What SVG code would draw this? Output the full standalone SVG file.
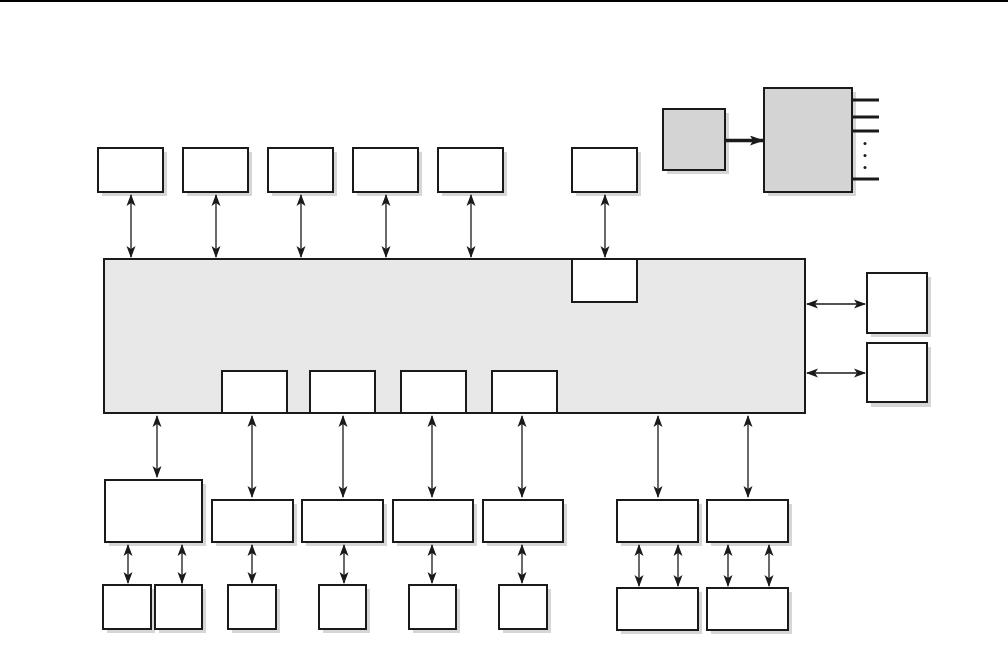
<svg xmlns="http://www.w3.org/2000/svg" width="1008" height="655" viewBox="0 0 1008 655">
<style>
.b{fill:#fff;stroke:#1a1a1a;stroke-width:2}
.g{fill:#d4d4d4;stroke:#1a1a1a;stroke-width:2}
.m{fill:#e8e8e8;stroke:#1a1a1a;stroke-width:2}
.s{fill:#d6d6d6}
.c{stroke:#1a1a1a;stroke-width:1.3;fill:none;marker-start:url(#ah);marker-end:url(#ah)}
.p{stroke:#1a1a1a;stroke-width:3}
</style>
<defs>
<marker id="ah" markerUnits="userSpaceOnUse" markerWidth="12" markerHeight="10" refX="11" refY="4.5" orient="auto-start-reverse" viewBox="0 0 12 9">
<path d="M0,0 L12,4.5 L0,9 L3,4.5 z" fill="#1a1a1a"/>
</marker>
<marker id="ah2" markerUnits="userSpaceOnUse" markerWidth="14" markerHeight="10" refX="13" refY="5" orient="auto" viewBox="0 0 14 10">
<path d="M0,0 L14,5 L0,10 L3,5 z" fill="#1a1a1a"/>
</marker>
</defs>
<rect x="0" y="0" width="1008" height="2" fill="#000"/>

<g id="top1"><rect class="s" x="102" y="152" width="65" height="44"/><rect class="b" x="98" y="148" width="65" height="44"/></g>
<g id="top2"><rect class="s" x="187" y="152" width="65" height="44"/><rect class="b" x="183" y="148" width="65" height="44"/></g>
<g id="top3"><rect class="s" x="272" y="152" width="65" height="44"/><rect class="b" x="268" y="148" width="65" height="44"/></g>
<g id="top4"><rect class="s" x="357" y="152" width="65" height="44"/><rect class="b" x="353" y="148" width="65" height="44"/></g>
<g id="top5"><rect class="s" x="442" y="152" width="65" height="44"/><rect class="b" x="438" y="148" width="65" height="44"/></g>
<g id="top6"><rect class="s" x="576" y="152" width="65" height="44"/><rect class="b" x="572" y="148" width="65" height="44"/></g>

<g id="src"><rect class="s" x="667" y="113" width="62" height="61"/><rect class="g" x="663" y="109" width="62" height="61"/></g>
<g id="chip"><rect class="s" x="768" y="92" width="88" height="104"/><rect class="g" x="764" y="88" width="88" height="104"/>
<line class="p" x1="853" y1="100" x2="879" y2="100"/>
<line class="p" x1="853" y1="117" x2="879" y2="117"/>
<line class="p" x1="853" y1="131" x2="879" y2="131"/>
<line class="p" x1="853" y1="179" x2="879" y2="179"/>
<circle cx="865" cy="143.5" r="1.5" fill="#1a1a1a"/>
<circle cx="865" cy="155.5" r="1.5" fill="#1a1a1a"/>
<circle cx="865" cy="167.5" r="1.5" fill="#1a1a1a"/>
</g>

<g id="main"><rect class="m" x="104" y="259" width="701" height="154"/>
<rect class="b" x="572" y="259" width="65" height="43"/>
<rect class="b" x="222" y="371" width="65" height="42"/>
<rect class="b" x="310" y="371" width="65" height="42"/>
<rect class="b" x="401" y="371" width="65" height="42"/>
<rect class="b" x="492" y="371" width="65" height="42"/>
</g>

<g id="right1"><rect class="s" x="871" y="277" width="60" height="60"/><rect class="b" x="867" y="273" width="60" height="60"/></g>
<g id="right2"><rect class="s" x="871" y="347" width="60" height="60"/><rect class="b" x="867" y="343" width="60" height="59"/></g>

<g id="mid0"><rect class="s" x="109" y="484" width="97" height="62"/><rect class="b" x="105" y="480" width="97" height="62"/></g>
<g id="mid1"><rect class="s" x="216" y="504" width="81" height="42"/><rect class="b" x="212" y="500" width="81" height="42"/></g>
<g id="mid2"><rect class="s" x="306" y="504" width="81" height="42"/><rect class="b" x="302" y="500" width="81" height="42"/></g>
<g id="mid3"><rect class="s" x="397" y="504" width="80" height="42"/><rect class="b" x="393" y="500" width="80" height="42"/></g>
<g id="mid4"><rect class="s" x="487" y="504" width="80" height="42"/><rect class="b" x="483" y="500" width="80" height="42"/></g>
<g id="mid5"><rect class="s" x="621" y="504" width="81" height="42"/><rect class="b" x="617" y="500" width="81" height="42"/></g>
<g id="mid6"><rect class="s" x="711" y="504" width="81" height="42"/><rect class="b" x="707" y="500" width="81" height="42"/></g>

<g id="bot1"><rect class="s" x="107" y="589" width="48" height="44"/><rect class="b" x="103" y="585" width="48" height="44"/></g>
<g id="bot2"><rect class="s" x="159" y="589" width="47" height="44"/><rect class="b" x="155" y="585" width="47" height="44"/></g>
<g id="bot3"><rect class="s" x="232" y="589" width="48" height="44"/><rect class="b" x="228" y="585" width="48" height="44"/></g>
<g id="bot4"><rect class="s" x="323" y="589" width="47" height="44"/><rect class="b" x="319" y="585" width="47" height="44"/></g>
<g id="bot5"><rect class="s" x="413" y="589" width="47" height="44"/><rect class="b" x="409" y="585" width="47" height="44"/></g>
<g id="bot6"><rect class="s" x="503" y="589" width="48" height="44"/><rect class="b" x="499" y="585" width="48" height="44"/></g>
<g id="bot7"><rect class="s" x="621" y="592" width="81" height="42"/><rect class="b" x="617" y="588" width="81" height="42"/></g>
<g id="bot8"><rect class="s" x="711" y="592" width="81" height="42"/><rect class="b" x="707" y="588" width="81" height="42"/></g>

<g id="connectors">
<line class="c" x1="131" y1="195" x2="131" y2="257"/>
<line class="c" x1="216" y1="195" x2="216" y2="257"/>
<line class="c" x1="301" y1="195" x2="301" y2="257"/>
<line class="c" x1="386" y1="195" x2="386" y2="257"/>
<line class="c" x1="471" y1="195" x2="471" y2="257"/>
<line class="c" x1="605" y1="195" x2="605" y2="257"/>
<line x1="726" y1="140.5" x2="763" y2="140.5" stroke="#1a1a1a" stroke-width="3.5" marker-end="url(#ah2)"/>
<line class="c" x1="807" y1="304" x2="865" y2="304"/>
<line class="c" x1="807" y1="373" x2="865" y2="373"/>
<line class="c" x1="157" y1="416" x2="157" y2="477"/>
<line class="c" x1="252" y1="416" x2="252" y2="497"/>
<line class="c" x1="343" y1="416" x2="343" y2="497"/>
<line class="c" x1="432" y1="416" x2="432" y2="497"/>
<line class="c" x1="522" y1="416" x2="522" y2="497"/>
<line class="c" x1="658" y1="416" x2="658" y2="497"/>
<line class="c" x1="748" y1="416" x2="748" y2="497"/>
<line class="c" x1="128" y1="545" x2="128" y2="583"/>
<line class="c" x1="182" y1="545" x2="182" y2="583"/>
<line class="c" x1="252" y1="545" x2="252" y2="583"/>
<line class="c" x1="344" y1="545" x2="344" y2="583"/>
<line class="c" x1="432" y1="545" x2="432" y2="583"/>
<line class="c" x1="522" y1="545" x2="522" y2="583"/>
<line class="c" x1="639" y1="545" x2="639" y2="586"/>
<line class="c" x1="678" y1="545" x2="678" y2="586"/>
<line class="c" x1="728" y1="545" x2="728" y2="586"/>
<line class="c" x1="769" y1="545" x2="769" y2="586"/>
</g>
</svg>
